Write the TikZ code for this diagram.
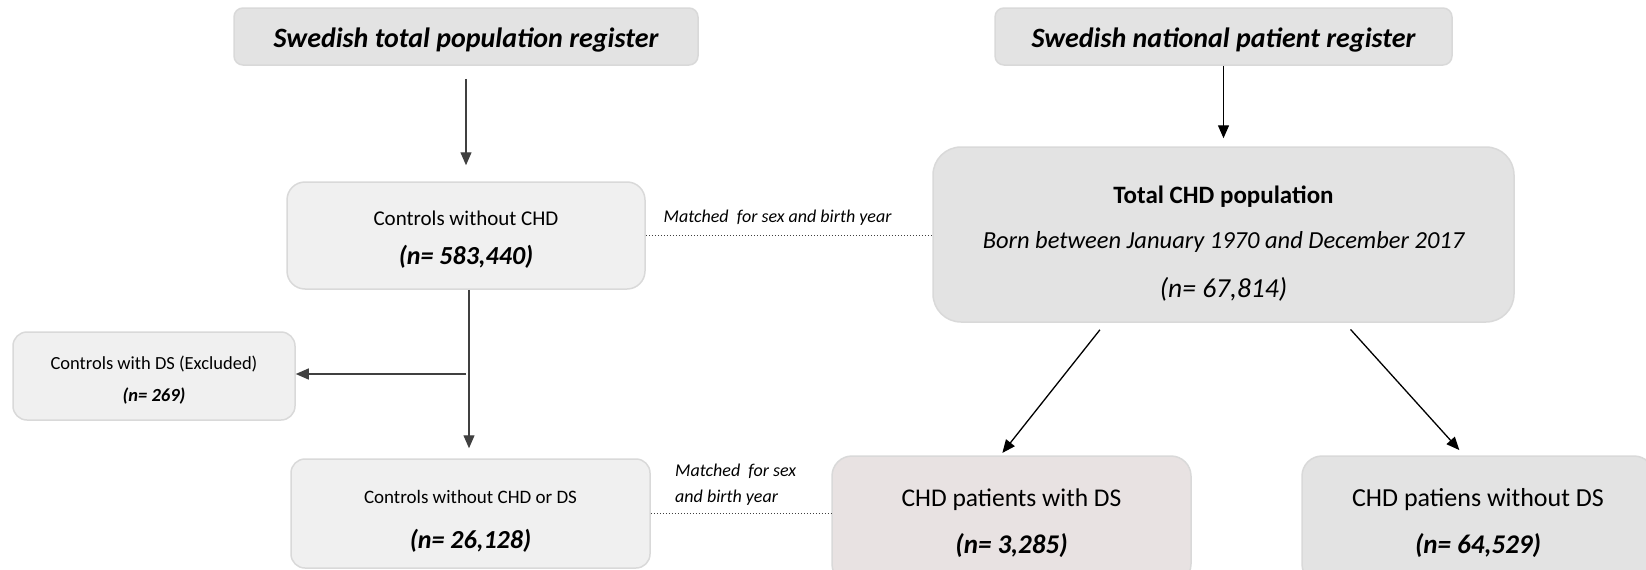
\documentclass[tikz,border=0pt]{standalone}
\usepackage{fontspec}
\setmainfont{Carlito}
\usetikzlibrary{arrows.meta}
\definecolor{boxgray}{HTML}{E3E3E3}
\definecolor{boxlight}{HTML}{F0F0F0}
\definecolor{boxpink}{HTML}{E8E2E2}
\definecolor{edgegray}{HTML}{D9D9D9}
\definecolor{linegray}{HTML}{404040}
% tall strut to push a node's text down a little
\newcommand{\lift}[1]{\rule{0pt}{#1}}

\begin{document}
\begin{tikzpicture}[x=1pt, y=-1pt,
    box/.style={draw=edgegray, line width=1.5pt, rounded corners=#1, align=center, inner sep=0pt},
    flow/.style={-{Triangle[length=13pt,width=11pt]}, line width=1.3pt},
    matchline/.style={dotted, line width=1pt, draw=linegray},
    matchtext/.style={font=\fontsize{18}{21}\selectfont\itshape, inner sep=0pt}]
    \useasboundingbox (0,0) rectangle (1646,570);

    % registers
    \node[box=9pt, fill=boxgray, minimum width=464pt, minimum height=57pt,
        font=\fontsize{28}{32}\selectfont\bfseries\itshape] (tpr) at (466,36.5) {\lift{27pt}Swedish total population register};
    \node[box=9pt, fill=boxgray, minimum width=457pt, minimum height=57pt,
        font=\fontsize{28}{32}\selectfont\bfseries\itshape] (npr) at (1223.5,36.5) {\lift{27pt}Swedish national patient register};

    % control side
    \node[box=18pt, fill=boxlight, minimum width=358pt, minimum height=107pt] (ctrl) at (466,235.5)
        {\fontsize{21}{25}\selectfont\lift{23pt}Controls without CHD\\[19pt]
         \fontsize{26}{30}\selectfont\bfseries\itshape (n= 583,440)};
    \node[box=14pt, fill=boxlight, minimum width=282pt, minimum height=88pt] (excl) at (154,376)
        {\fontsize{18.5}{22}\selectfont\lift{22pt}Controls with DS (Excluded)\\[15pt]
         \fontsize{18.5}{22}\selectfont\bfseries\itshape (n= 269)};
    \node[box=14pt, fill=boxlight, minimum width=359pt, minimum height=109pt] (ctrlds) at (470.5,513.5)
        {\fontsize{19}{23}\selectfont\lift{29pt}Controls without CHD or DS\\[25pt]
         \fontsize{26}{30}\selectfont\bfseries\itshape (n= 26,128)};

    % patient side
    \node[box=28pt, fill=boxgray, minimum width=581pt, minimum height=175pt] (chd) at (1223.5,234.5)
        {\fontsize{25}{30}\selectfont\bfseries\lift{36pt}Total CHD population\\[23pt]
         \fontsize{24.5}{29}\selectfont\itshape Born between January 1970 and December 2017\\[24pt]
         \fontsize{27.5}{32}\selectfont\itshape (n= 67,814)};
    \node[box=20pt, fill=boxpink, minimum width=359pt, minimum height=128pt] (chdds) at (1011.5,520)
        {\fontsize{25.5}{30}\selectfont\lift{24pt}CHD patients with DS\\[21pt]
         \fontsize{27}{32}\selectfont\bfseries\itshape (n= 3,285)};
    \node[box=20pt, fill=boxgray, minimum width=352pt, minimum height=128pt] (chdnods) at (1478,520)
        {\fontsize{26}{30}\selectfont\lift{24pt}CHD patiens without DS\\[21pt]
         \fontsize{27}{32}\selectfont\bfseries\itshape (n= 64,529)};

    % arrows
    \draw[flow, draw=linegray, shorten <=13pt, shorten >=16pt] (tpr) -- (ctrl);
    \draw[flow, shorten >=8pt] (npr) -- (chd);
    \draw[flow, draw=linegray, shorten >=10pt] ([xshift=3pt]ctrl.south) -- ([xshift=-1.5pt]ctrlds.north);
    \coordinate (split) at (466,374);
    \draw[flow, draw=linegray] (split) -- (excl.east |- split);
    \draw[flow, shorten <=9pt, shorten >=3pt] ([xshift=-118pt]chd.south) -- ([xshift=-11pt]chdds.north);
    \draw[flow, shorten <=9pt, shorten >=7pt] ([xshift=121pt]chd.south) -- ([xshift=-14pt]chdnods.north);

    % matching
    \draw[matchline] (ctrl.east) -- (ctrl.east -| chd.west)
        node[matchtext, above=10pt, pos=0.46] {Matched\ \ for sex and birth year};
    \draw[matchline] (ctrlds.east) -- (ctrlds.east -| chdds.west);
    \node[matchtext, align=left, anchor=south west] (matchtwo) at (675,506)
        {Matched\ \ for sex\\[5pt]and birth year};
\end{tikzpicture}
\end{document}
